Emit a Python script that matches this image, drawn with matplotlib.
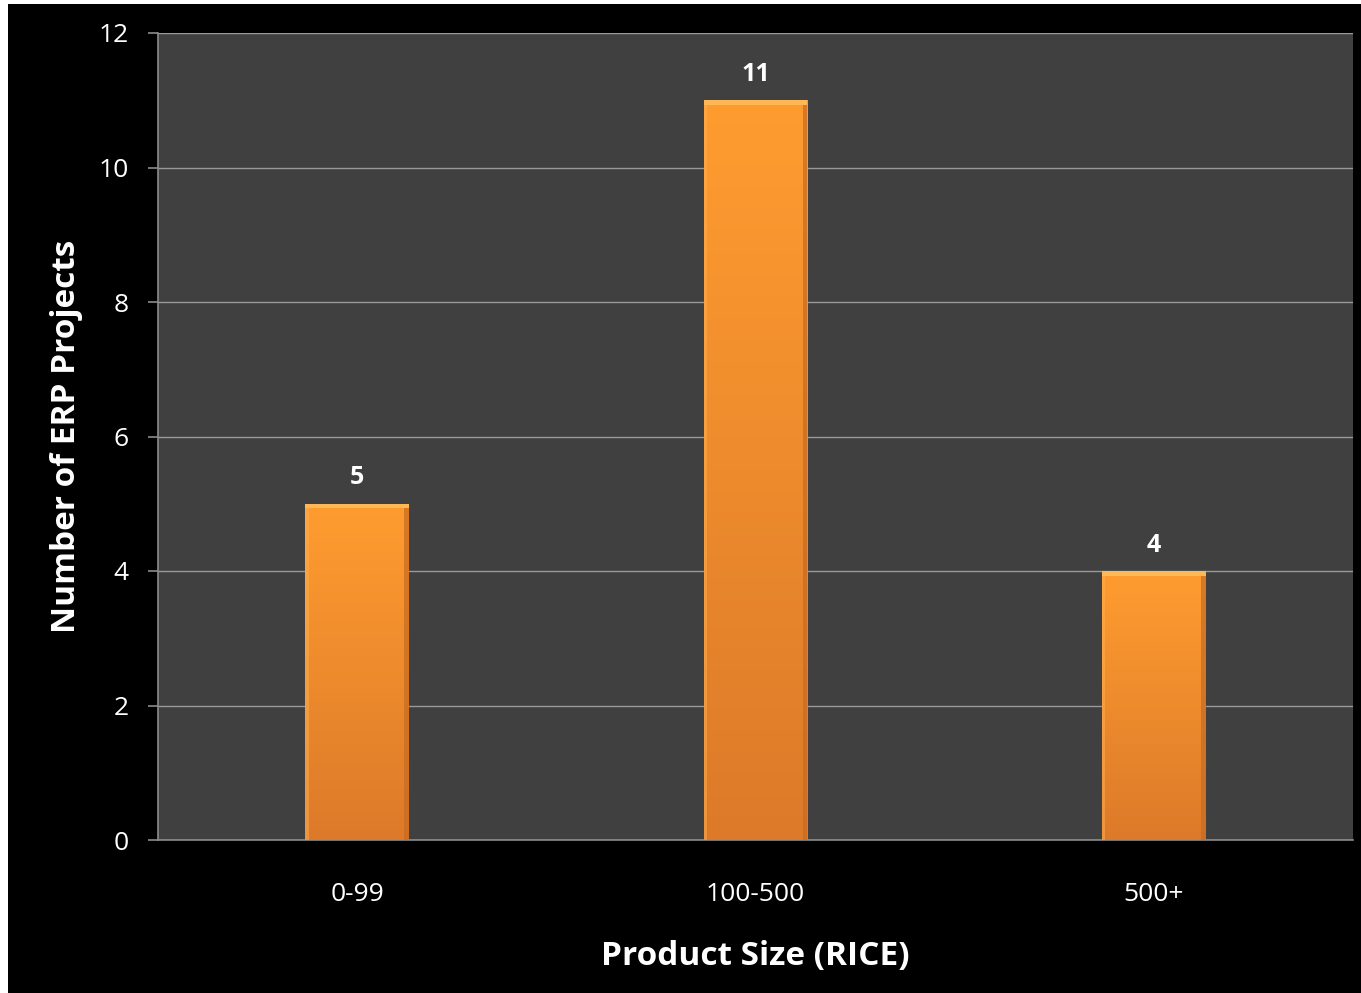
import numpy as np
import matplotlib
matplotlib.use("Agg")
import matplotlib.pyplot as plt
from matplotlib.patches import Rectangle

categories = ["0-99", "100-500", "500+"]
projects = [5, 11, 4]
y_ticks = [0, 2, 4, 6, 8, 10, 12]

plt.rcParams['font.family'] = ['Open Sans', 'DejaVu Sans']

W, H = 1361, 993
fig = plt.figure(figsize=(W / 100, H / 100), dpi=100, facecolor='white')
# black slide background with a thin white margin top/left like the screenshot
fig.patches.append(Rectangle((8 / W, 0), 1, (H - 4) / H, transform=fig.transFigure,
                             facecolor='black', edgecolor='none', zorder=-10))

ax = fig.add_axes([158 / W, (H - 840) / H, (1353 - 158) / W, (840 - 33) / H])
ax.set_facecolor('#404040')

x = np.arange(len(categories))
bar_w = 0.26
bars = ax.bar(x, projects, width=bar_w, color='#F28C2A', edgecolor='none', zorder=3)

# vertical orange gradient, lighter at top
grad = np.linspace(0, 1, 256).reshape(-1, 1)
cmap = matplotlib.colors.LinearSegmentedColormap.from_list('og', ['#DC7A2A', '#FF9C30'])
for b in bars:
    bx, by, bw, bh = b.get_x(), b.get_y(), b.get_width(), b.get_height()
    im = ax.imshow(grad, cmap=cmap, origin='lower', aspect='auto',
                   extent=[bx, bx + bw, by, by + bh], zorder=3.5)
    im.set_clip_path(b)
    # bevel: light top strip, darker right edge
    ax.add_patch(Rectangle((bx, by + bh - 0.07), bw, 0.07, facecolor='#FFC060',
                           edgecolor='none', alpha=0.8, zorder=4))
    ax.add_patch(Rectangle((bx + bw - 0.012, by), 0.012, bh - 0.07, facecolor='#C86A20',
                           edgecolor='none', alpha=0.7, zorder=4))
    ax.add_patch(Rectangle((bx, by), 0.008, bh - 0.07, facecolor='#FFB050',
                           edgecolor='none', alpha=0.5, zorder=4))
    ax.text(bx + bw / 2, bh + 0.2, f"{int(bh)}", ha='center', va='bottom',
            color='white', fontsize=18, fontweight='bold', zorder=5)

ax.set_xlim(-0.5, len(categories) - 0.5)
ax.set_ylim(0, 12)
ax.set_yticks(y_ticks)
ax.set_xticks(x)
ax.set_xticklabels(categories)
ax.yaxis.grid(True, color='#9A9A9A', linewidth=1.0, zorder=1)
ax.set_axisbelow(True)

for side in ['top', 'right']:
    ax.spines[side].set_visible(False)
for side in ['left', 'bottom']:
    ax.spines[side].set_color('#8C8C8C')
    ax.spines[side].set_linewidth(1.2)

ax.tick_params(axis='y', colors='#8C8C8C', labelcolor='white', labelsize=19,
               length=7, width=1.2, pad=14)
ax.tick_params(axis='x', length=0, labelcolor='white', labelsize=19, pad=30)

ax.set_xlabel("Product Size (RICE)", color='white', fontsize=24, fontweight='bold', labelpad=24)
ax.set_ylabel("Number of ERP Projects", color='white', fontsize=24, fontweight='bold', labelpad=11)

fig.savefig("out.png", dpi=100, facecolor=fig.get_facecolor())
